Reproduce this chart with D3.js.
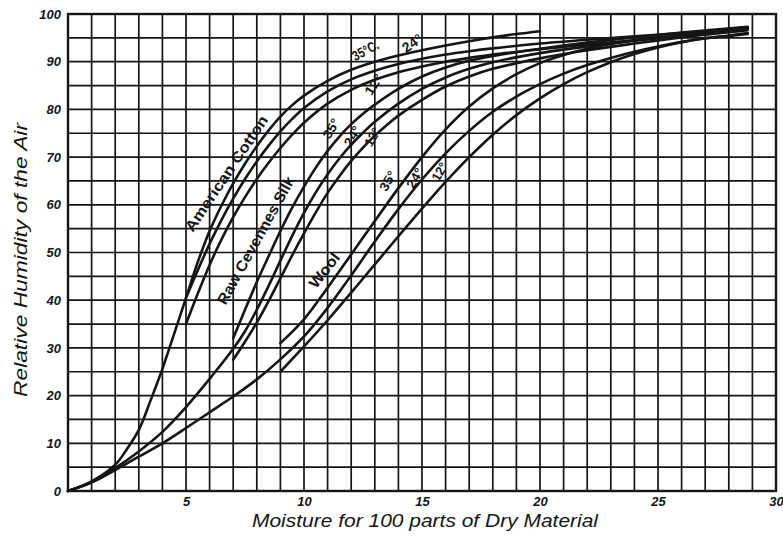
<!DOCTYPE html>
<html>
<head>
<meta charset="utf-8">
<script src="https://cdn.jsdelivr.net/npm/d3@7"></script>
<style>
  html, body { margin: 0; padding: 0; background: #fff; }
  svg { display: block; }
</style>
</head>
<body>
<svg id="chart" width="783" height="540"></svg>
<script>
// ---------------- DATA ----------------
const xTicks = [5, 10, 15, 20, 25, 30];
const yTicks = [0, 10, 20, 30, 40, 50, 60, 70, 80, 90, 100];

// American Cotton (35°, 24°, 12° C.)
const cotton35 = [[0,0],[1,2],[2,5.5],[2.5,8.8],[3,12.8],[3.5,19],[4,25.6],[4.5,33],[5,40.5],[5.5,48],[6,54.5],[6.5,59.8],[7,64.5],[7.5,68.6],[8,72.3],[8.5,75.6],[9,78.5],[9.5,80.9],[10,82.9],[11,86],[12,88.3],[13,90],[14,91.3],[15,92.4],[16,93.4],[17,94.3],[18,95.1],[19,95.8],[20,96.4]];
const cotton24 = [[5,40.5],[5.5,46.3],[6,51.8],[6.5,56.8],[7,61.3],[7.5,65.4],[8,69.1],[8.5,72.4],[9,75.4],[9.5,78],[10,80.3],[11,83.8],[12,86.3],[13,88.1],[14,89.5],[15,90.6],[16,91.5],[17,92.2],[18,92.8],[20,93.8],[22,94.6],[24,95.3],[26,96],[28.8,97.2]];
const cotton12 = [[5,35],[5.5,41.4],[6,47.4],[6.5,52.7],[7,57.4],[7.5,61.6],[8,65.4],[8.5,68.8],[9,71.9],[9.5,74.7],[10,77.2],[11,81.2],[12,84.1],[13,86.2],[14,87.8],[15,89],[16,90],[17,90.8],[18,91.5],[20,92.6],[22,93.6],[24,94.5],[26,95.4],[28.8,96.9]];

// Raw Cevennes Silk
const silk35 = [[7,32],[7.5,38],[8,43.8],[8.5,49.2],[9,54.5],[9.5,59.4],[10,63.8],[10.5,67.8],[11,71.3],[11.5,74.3],[12,76.9],[12.5,79.1],[13,81],[14,84.3],[15,86.9],[16,88.8],[17,90.2],[18,91.2],[20,92.7],[22,94],[24,95.1],[26,96.1],[28.8,97.3]];
const silk24 = [[0,0],[1,1.8],[2,4.8],[3,8.3],[4,12.4],[5,17.6],[6,23.5],[7,29.8],[7.5,33.5],[8,38],[8.5,43],[9,48.3],[9.5,53.5],[10,58.3],[10.5,62.6],[11,66.4],[11.5,69.7],[12,72.6],[12.5,75.1],[13,77.4],[14,81.2],[15,84.3],[16,86.7],[17,88.5],[18,89.9],[20,91.8],[22,93.2],[24,94.4],[26,95.5],[28.8,96.9]];
const silk12 = [[7,27.5],[7.5,31.3],[8,35.3],[8.5,39.8],[9,44.6],[9.5,49.4],[10,54],[10.5,58.4],[11,62.5],[11.5,66],[12,69.2],[12.5,72],[13,74.5],[13.5,76.7],[14,78.7],[15,82],[16,84.8],[17,86.9],[18,88.5],[20,90.7],[22,92.4],[24,93.8],[26,95.1],[28.8,96.6]];

// Wool
const wool35 = [[9,31],[10,36],[11,42.6],[12,49.6],[13,56.6],[14,63.5],[15,70],[16,75.8],[17,80.6],[18,84.4],[19,87.4],[20,89.7],[21,91.4],[22,92.7],[23,93.7],[24,94.5],[25,95.1],[26,95.6],[27,96.1],[28,96.6],[28.8,97]];
const wool24 = [[0,0],[1,1.8],[2,4.4],[3,7.2],[4,10],[5,13.2],[6,16.5],[7,19.8],[8,23.4],[9,27.6],[10,32.4],[11,38.4],[12,45.2],[13,52.3],[14,59.1],[15,65.3],[16,70.8],[17,75.5],[18,79.5],[19,82.7],[20,85.3],[21,87.5],[22,89.3],[23,90.8],[24,92.1],[25,93.2],[26,94.1],[27,94.9],[28,95.5],[28.8,96]];
const wool12 = [[9,25],[10,30.3],[11,35.8],[12,41.6],[13,47.5],[14,53.4],[15,59.2],[16,64.8],[17,70],[18,74.7],[19,78.8],[20,82.3],[21,85.3],[22,87.8],[23,89.9],[24,91.6],[25,93],[26,94.1],[27,94.9],[28,95.4],[28.8,95.8]];

const series = [cotton35, cotton24, cotton12, silk35, silk24, silk12, wool35, wool24, wool12];

// ---------------- DRAWING ----------------
const svg = d3.select("#chart");
const W = 783, H = 540;
const x = d3.scaleLinear().domain([0, 30]).range([68, 776]);
const y = d3.scaleLinear().domain([0, 100]).range([491, 14]);
const ink = "#151515";

svg.append("rect").attr("width", W).attr("height", H).attr("fill", "#fff");

// grid
const grid = svg.append("g").attr("stroke", ink).attr("stroke-width", 1.7).attr("fill", "none");
grid.selectAll("line.v").data(d3.range(0, 31)).join("line")
  .attr("class", "v")
  .attr("x1", d => x(d)).attr("x2", d => x(d))
  .attr("y1", y(0)).attr("y2", y(100));
grid.selectAll("line.h").data(d3.range(0, 101, 5)).join("line")
  .attr("class", "h")
  .attr("x1", x(0)).attr("x2", x(30))
  .attr("y1", d => y(d)).attr("y2", d => y(d));
svg.append("rect")
  .attr("x", x(0)).attr("y", y(100))
  .attr("width", x(30) - x(0)).attr("height", y(0) - y(100))
  .attr("fill", "none").attr("stroke", ink).attr("stroke-width", 2.4);

// axes (labels only)
const tickFont = "'Liberation Sans', Arial, sans-serif";
const xAxis = svg.append("g").attr("transform", `translate(0,${y(0)})`)
  .call(d3.axisBottom(x).tickValues(xTicks).tickSize(0).tickPadding(6));
xAxis.select(".domain").remove();
xAxis.selectAll("text").attr("font-family", tickFont).attr("font-size", 13)
  .attr("font-style", "italic").attr("font-weight", "bold").attr("fill", ink);

const yAxis = svg.append("g").attr("transform", `translate(${x(0)},0)`)
  .call(d3.axisLeft(y).tickValues(yTicks).tickSize(0).tickPadding(7));
yAxis.select(".domain").remove();
yAxis.selectAll("text").attr("font-family", tickFont).attr("font-size", 13)
  .attr("font-style", "italic").attr("font-weight", "bold").attr("fill", ink);

// curves
const line = d3.line().x(d => x(d[0])).y(d => y(d[1])).curve(d3.curveCatmullRom.alpha(0.5));
svg.append("g").selectAll("path").data(series).join("path")
  .attr("d", line).attr("fill", "none").attr("stroke", ink)
  .attr("stroke-width", 2.6).attr("stroke-linecap", "round").attr("stroke-linejoin", "round");

// axis titles
svg.append("text").attr("x", 425).attr("y", 527)
  .attr("text-anchor", "middle").attr("font-family", tickFont)
  .attr("font-style", "italic").attr("font-size", 19).attr("fill", ink)
  .attr("textLength", 346).attr("lengthAdjust", "spacingAndGlyphs")
  .text("Moisture for 100 parts of Dry Material");
svg.append("text").attr("transform", "translate(27,260) rotate(-90)")
  .attr("text-anchor", "middle").attr("font-family", tickFont)
  .attr("font-style", "italic").attr("font-size", 19).attr("fill", ink)
  .attr("textLength", 274).attr("lengthAdjust", "spacingAndGlyphs")
  .text("Relative Humidity of the Air");

// curve labels
function label(txt, dx, dy, angle, size, len) {
  const t = svg.append("text")
    .attr("transform", `translate(${x(dx)},${y(dy)}) rotate(${angle})`)
    .attr("text-anchor", "middle").attr("dominant-baseline", "central")
    .attr("font-family", tickFont).attr("font-weight", "bold")
    .attr("font-size", size).attr("fill", ink).text(txt);
  if (len) t.attr("textLength", len).attr("lengthAdjust", "spacingAndGlyphs");
}
label("American Cotton", 6.7, 66.6, -56, 15, 136);
label("Raw Cevennes Silk", 7.95, 52.6, -61, 15, 144);
label("Wool", 10.85, 46.3, -52, 15, 40);

label("35°C.", 12.6, 92.4, -28, 14, 28);
label("24°", 14.58, 93.9, -35, 14, 21);
label("12°", 12.95, 85.2, -58, 13, 22);

label("35°", 11.15, 76.0, -60, 13, 21);
label("24°", 12.05, 74.4, -60, 13, 21);
label("12°", 12.9, 74.2, -60, 13, 19);

label("35°", 13.55, 65.0, -60, 13, 21);
label("24°", 14.7, 65.6, -60, 13, 21);
label("12°", 15.75, 66.9, -60, 13, 19);
</script>
</body>
</html>
